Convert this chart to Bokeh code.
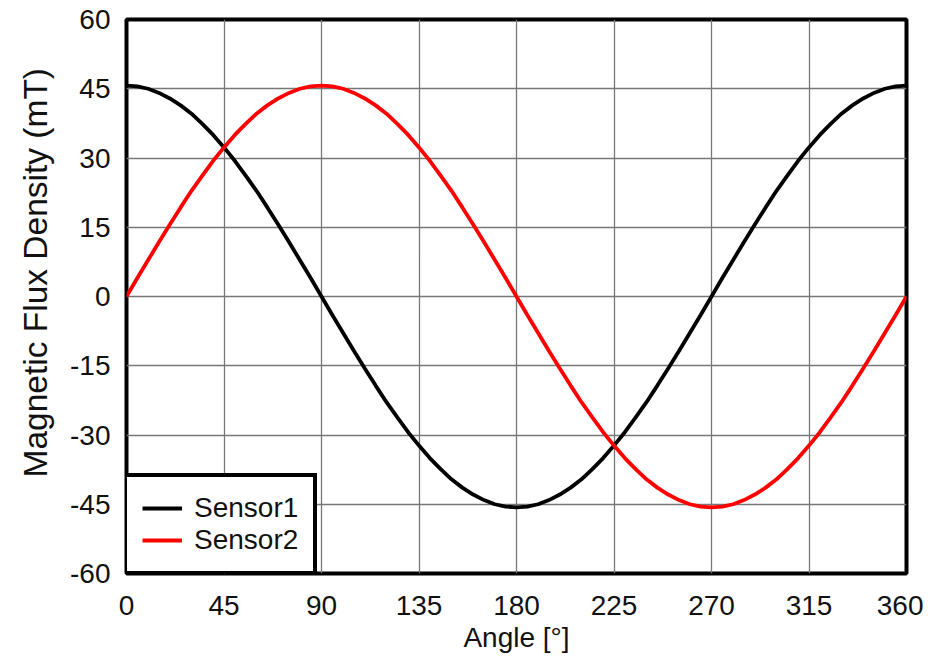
from bokeh.plotting import figure
from bokeh.models import FixedTicker, Range1d, Legend, LegendItem, Title
from bokeh.embed import file_html
from bokeh.resources import INLINE

angle = [i * 5 for i in range(73)]
sensor1 = [45.7,45.5,45.0,44.1,42.9,41.4,39.6,37.4,35.0,32.3,29.4,26.2,22.9,19.3,15.6,11.8,7.9,4.0,0.0,
           -4.0,-7.9,-11.8,-15.6,-19.3,-22.9,-26.2,-29.4,-32.3,-35.0,-37.4,-39.6,-41.4,-42.9,-44.1,-45.0,-45.5,-45.7,
           -45.5,-45.0,-44.1,-42.9,-41.4,-39.6,-37.4,-35.0,-32.3,-29.4,-26.2,-22.9,-19.3,-15.6,-11.8,-7.9,-4.0,0.0,
           4.0,7.9,11.8,15.6,19.3,22.9,26.2,29.4,32.3,35.0,37.4,39.6,41.4,42.9,44.1,45.0,45.5,45.7]
sensor2 = [0.0,4.0,7.9,11.8,15.6,19.3,22.9,26.2,29.4,32.3,35.0,37.4,39.6,41.4,42.9,44.1,45.0,45.5,45.7,
           45.5,45.0,44.1,42.9,41.4,39.6,37.4,35.0,32.3,29.4,26.2,22.9,19.3,15.6,11.8,7.9,4.0,0.0,
           -4.0,-7.9,-11.8,-15.6,-19.3,-22.9,-26.2,-29.4,-32.3,-35.0,-37.4,-39.6,-41.4,-42.9,-44.1,-45.0,-45.5,-45.7,
           -45.5,-45.0,-44.1,-42.9,-41.4,-39.6,-37.4,-35.0,-32.3,-29.4,-26.2,-22.9,-19.3,-15.6,-11.8,-7.9,-4.0,0.0]
x_ticks = [0, 45, 90, 135, 180, 225, 270, 315, 360]
y_ticks = [-60, -45, -30, -15, 0, 15, 30, 45, 60]
x_title = "Angle [°]"
y_title = "Magnetic Flux Density (mT)"

FONT = "Liberation Sans"
TXT = "#111111"

p = figure(width=923, height=657, output_backend="svg", toolbar_location=None,
           x_range=Range1d(0, 360), y_range=Range1d(-60, 60),
           min_border_left=125, min_border_top=19, min_border_right=17, min_border_bottom=84)

p.outline_line_color = "black"
p.outline_line_width = 4
p.outline_line_alpha = 1.0

for ax in (p.xaxis[0], p.yaxis[0]):
    ax.axis_line_color = None
    ax.major_tick_line_color = None
    ax.minor_tick_line_color = None
    ax.major_label_text_font = FONT
    ax.major_label_text_font_size = "28px"
    ax.major_label_text_color = TXT

p.xaxis.ticker = FixedTicker(ticks=x_ticks)
p.yaxis.ticker = FixedTicker(ticks=y_ticks)
p.xaxis.major_label_overrides = {t: str(t) for t in x_ticks}
p.yaxis.major_label_overrides = {t: str(t) for t in y_ticks}
p.xaxis.major_label_standoff = 16
p.yaxis.major_label_standoff = 10

p.xaxis.axis_label = x_title
p.xaxis.axis_label_text_font = FONT
p.xaxis.axis_label_text_font_style = "normal"
p.xaxis.axis_label_text_color = TXT
p.xaxis.axis_label_text_font_size = "28px"
p.xaxis.axis_label_standoff = 4

ytitle = Title(text=y_title, align="left", offset=96, standoff=28,
               text_font=FONT, text_font_size="33.5px", text_font_style="normal",
               text_color=TXT)
p.add_layout(ytitle, "left")

p.xgrid.grid_line_color = "#777777"
p.ygrid.grid_line_color = "#777777"
p.xgrid.grid_line_width = 1.3
p.ygrid.grid_line_width = 1.3

r1 = p.line(angle, sensor1, line_color="black", line_width=3.8)
r2 = p.line(angle, sensor2, line_color="#ff0000", line_width=3.8)

legend = Legend(items=[LegendItem(label="Sensor1", renderers=[r1]),
                       LegendItem(label="Sensor2", renderers=[r2])],
                location=(-3, -2), margin=0, padding=15, spacing=0,
                glyph_width=40, label_standoff=12, label_height=32, glyph_height=32,
                border_line_color="black", border_line_width=4, border_line_alpha=1.0,
                label_text_font=FONT, label_text_font_size="28px", label_text_color=TXT,
                background_fill_color="white", background_fill_alpha=1.0)
p.add_layout(legend)

open("out.html", "w").write(file_html(p, INLINE))
